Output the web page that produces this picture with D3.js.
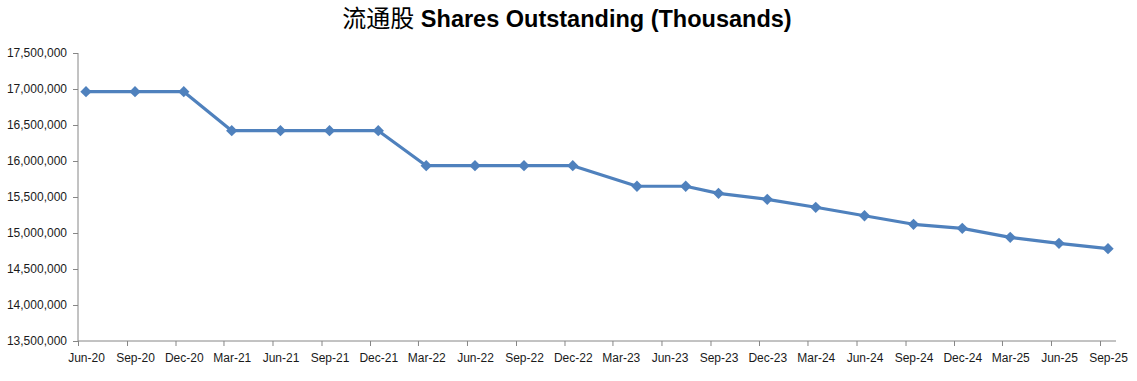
<!DOCTYPE html>
<html><head><meta charset="utf-8">
<script src="https://cdn.jsdelivr.net/npm/d3@7"></script>
<style>body{margin:0;background:#fff}svg{display:block}</style>
</head><body>
<svg id="chart" width="1137" height="381"></svg>
<script>
// Reporting month of each observation
const months = ["2020-06","2020-09","2020-12","2021-03","2021-06","2021-09","2021-12","2022-03","2022-06","2022-09","2022-12","2023-04","2023-07","2023-09","2023-12","2024-03","2024-06","2024-09","2024-12","2025-03","2025-06","2025-09"];
// Shares outstanding (thousands)
const shares = [16963000,16963000,16963000,16421000,16421000,16421000,16421000,15935000,15935000,15935000,15935000,15649000,15649000,15551000,15468000,15357000,15240000,15121000,15065000,14940000,14857000,14782000];
// Axis ticks
const tickMonths = ["2020-06","2020-09","2020-12","2021-03","2021-06","2021-09","2021-12","2022-03","2022-06","2022-09","2022-12","2023-03","2023-06","2023-09","2023-12","2024-03","2024-06","2024-09","2024-12","2025-03","2025-06","2025-09"];
const tickLabels = ["Jun-20","Sep-20","Dec-20","Mar-21","Jun-21","Sep-21","Dec-21","Mar-22","Jun-22","Sep-22","Dec-22","Mar-23","Jun-23","Sep-23","Dec-23","Mar-24","Jun-24","Sep-24","Dec-24","Mar-25","Jun-25","Sep-25"];
const yTicks = [13500000,14000000,14500000,15000000,15500000,16000000,16500000,17000000,17500000];
const titleCn = "流通股";
const titleEn = "Shares Outstanding (Thousands)";

const svg = d3.select("#chart");
const parseM = d3.utcParse("%Y-%m");
const monthStart = s => parseM(s);
const monthEnd = s => d3.utcMonth.offset(parseM(s), 1);

const x = d3.scaleUtc()
  .domain([parseM("2020-06"), parseM("2025-10")])
  .range([78, 1116]);
const y = d3.scaleLinear().domain([13500000, 17500000]).range([341, 53]);
const midX = s => (x(monthStart(s)) + x(monthEnd(s))) / 2;

const axisColor = "#868686";
const font = "'Liberation Sans', Arial, sans-serif";

// Y axis
const yAxis = svg.append("g").attr("transform", "translate(78,0)")
  .call(d3.axisLeft(y).tickValues(yTicks).tickSize(5).tickPadding(6).tickFormat(d3.format(",")));
yAxis.select(".domain").attr("stroke", axisColor).attr("d", `M0,${y(17500000)}V${y(13500000)}`);
yAxis.selectAll(".tick line").attr("stroke", axisColor);
yAxis.selectAll(".tick text").attr("fill", "#1a1a1a").style("font-family", font).style("font-size", "12px");

// X axis
const xAxis = svg.append("g").attr("transform", `translate(0,${y(13500000)})`)
  .call(d3.axisBottom(x).tickValues(tickMonths.map(monthStart)).tickSize(5).tickPadding(7)
    .tickFormat((d, i) => tickLabels[i]));
xAxis.select(".domain").attr("stroke", axisColor).attr("d", `M${x.range()[0]},0H${x.range()[1]}`);
xAxis.selectAll(".tick line").attr("stroke", axisColor);
xAxis.selectAll(".tick text")
  .attr("fill", "#1a1a1a").style("font-family", font).style("font-size", "12px")
  .attr("x", (d, i) => midX(tickMonths[i]) - x(monthStart(tickMonths[i])));

// Line
const data = months.map((m, i) => ({m, v: shares[i]}));
const color = "#4F81BD";
svg.append("path").datum(data)
  .attr("fill", "none").attr("stroke", color).attr("stroke-width", 3.2).attr("stroke-linejoin", "round")
  .attr("d", d3.line().x(d => midX(d.m)).y(d => y(d.v)));

// Diamond markers
const sym = d3.symbol().type(d3.symbolSquare).size(64);
svg.append("g").selectAll("path").data(data).join("path")
  .attr("d", sym)
  .attr("fill", color)
  .attr("transform", d => `translate(${midX(d.m)},${y(d.v)}) rotate(45)`);

// Title
const title = svg.append("text").attr("x", 567).attr("y", 27).attr("text-anchor", "middle").attr("fill", "#000");
title.append("tspan").text(titleCn).style("font-family", "'Noto Sans CJK SC', sans-serif").style("font-size", "24px").style("font-weight", "normal");
title.append("tspan").text(" " + titleEn).style("font-family", font).style("font-size", "23.5px").style("font-weight", "bold");
</script>
</body></html>
